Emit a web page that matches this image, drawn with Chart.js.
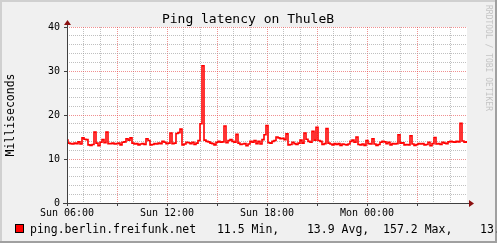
<!DOCTYPE html>
<html lang="en">
<head>
  <meta charset="UTF-8" />
  <title>Ping latency on ThuleB</title>
  <script src="https://cdn.jsdelivr.net/npm/chart.js"></script>
  <style>
    html, body { margin: 0; padding: 0; background: #f0f0f0; }
  </style>
</head>
<body>
  <canvas id="ping" width="497" height="243"></canvas>

  <script>
    // one sample every 7.2 minutes, Sun 06:00 -> Mon 06:00
    const seriesName = 'ping.berlin.freifunk.net';
    const stepHours = 0.12;
    const latencyMs = [
      14.3, 13.6, 13.5, 13.4, 13.6, 13.5, 13.9, 13.4, 14.8, 14.5,
      14.4, 13.2, 13.1, 13.3, 16.1, 13.6, 13.0, 13.8, 14.4, 13.7,
      16.1, 13.5, 13.5, 13.6, 13.4, 13.5, 13.6, 13.2, 13.8, 13.9,
      14.6, 14.3, 14.8, 13.6, 13.4, 13.5, 13.2, 13.4, 13.5, 13.3,
      14.6, 14.2, 13.2, 13.3, 13.5, 13.4, 13.6, 13.5, 14.0, 13.8,
      13.5, 13.6, 15.9, 13.5, 13.6, 15.8, 16.0, 16.8, 13.2, 13.4,
      13.8, 13.7, 13.5, 13.8, 13.3, 13.6, 14.2, 18.0, 31.2, 14.3,
      14.0, 13.9, 13.6, 13.5, 13.2, 13.8, 14.0, 13.8, 13.9, 17.5,
      13.7, 14.2, 14.4, 14.0, 13.8, 15.6, 13.6, 13.3, 13.4, 13.5,
      13.0, 13.4, 14.0, 13.8, 14.2, 13.5, 14.0, 13.4, 14.4, 15.5,
      17.6, 13.7, 13.6, 14.0, 14.2, 15.0, 14.8, 14.6, 14.7, 14.4,
      15.7, 13.2, 13.3, 13.8, 13.5, 13.3, 13.6, 14.3, 13.6, 15.9,
      14.5, 14.0, 13.8, 16.3, 14.3, 17.2, 14.2, 14.0, 13.3, 13.5,
      16.9, 13.6, 13.4, 13.2, 13.5, 13.3, 13.5, 13.1, 13.4, 13.3,
      13.2, 13.4, 14.0, 14.3, 13.8, 15.0, 13.3, 13.2, 13.4, 13.1,
      14.2, 13.5, 13.4, 14.6, 13.4, 13.1, 13.3, 13.8, 14.0, 13.9,
      13.5, 13.8, 13.2, 13.5, 13.4, 13.5, 15.5, 13.6, 13.7, 13.2,
      13.3, 13.2, 15.3, 13.4, 13.1, 13.3, 13.5, 13.4, 13.5, 13.2,
      13.3, 13.8, 13.0, 13.5, 14.9, 13.4, 13.5, 13.3, 13.8, 13.6,
      13.5, 13.9, 14.0, 13.9, 13.8, 14.0, 13.9, 18.1, 14.1, 13.8,
      13.9
    ];
    const xTickHours = [0, 6, 12, 18];
    const xTickLabels = ['Sun 06:00', 'Sun 12:00', 'Sun 18:00', 'Mon 00:00'];
    const yTickLabels = [0, 10, 20, 30, 40];
    const legendStats = ['11.5 Min,', '13.9 Avg,', '157.2 Max,', '13.9 Last'];

    const mono = '"DejaVu Sans Mono", monospace';
    const majorGrid = 'rgba(230, 70, 70, 0.6)';
    const minorGrid = 'rgba(150, 150, 150, 0.6)';
    const axisColor = '#404040';
    const arrowColor = '#8b1010';

    const points = latencyMs.map((v, i) => ({ x: i * stepHours, y: v }));

    const rrdLook = {
      id: 'rrdLook',
      beforeDraw(chart) {
        const { ctx, width, height, chartArea: a } = chart;
        ctx.save();
        ctx.fillStyle = '#f0f0f0';
        ctx.fillRect(0, 0, width, height);
        ctx.fillStyle = '#d0d0d0';
        ctx.fillRect(0, 0, width, 2);
        ctx.fillRect(0, 0, 2, height);
        ctx.fillStyle = '#a0a0a0';
        ctx.fillRect(0, height - 2, width, 2);
        ctx.fillRect(width - 2, 0, 2, height);
        ctx.fillStyle = '#ffffff';
        ctx.fillRect(a.left, a.top, a.right - a.left, a.bottom - a.top);
        ctx.restore();
      },
      afterDraw(chart) {
        const { ctx, chartArea: a } = chart;
        const x0 = Math.round(chart.scales.x.getPixelForValue(0)) + 0.5;
        const y0 = Math.round(chart.scales.y.getPixelForValue(0)) + 0.5;
        ctx.save();

        // axes
        ctx.strokeStyle = axisColor;
        ctx.lineWidth = 1;
        ctx.beginPath();
        ctx.moveTo(a.left - 4, y0);
        ctx.lineTo(a.right + 2, y0);
        ctx.moveTo(x0, a.bottom + 2);
        ctx.lineTo(x0, a.top - 2);
        ctx.stroke();

        // arrow heads
        ctx.fillStyle = arrowColor;
        ctx.beginPath();
        ctx.moveTo(a.right + 7, y0);
        ctx.lineTo(a.right + 2, y0 - 3.5);
        ctx.lineTo(a.right + 2, y0 + 3.5);
        ctx.closePath();
        ctx.fill();
        ctx.beginPath();
        ctx.moveTo(x0, a.top - 7);
        ctx.lineTo(x0 - 3.5, a.top - 2);
        ctx.lineTo(x0 + 3.5, a.top - 2);
        ctx.closePath();
        ctx.fill();

        // title
        ctx.fillStyle = '#000';
        ctx.font = '13px ' + mono;
        ctx.textAlign = 'center';
        ctx.textBaseline = 'alphabetic';
        ctx.fillText('Ping latency on ThuleB', 248, 22.5);

        // legend
        ctx.fillStyle = '#ff0000';
        ctx.fillRect(15, 224, 9, 9);
        ctx.strokeStyle = '#000';
        ctx.strokeRect(15.5, 224.5, 8, 8);
        ctx.fillStyle = '#000';
        ctx.font = '11.5px ' + mono;
        ctx.textAlign = 'left';
        const gaps = ['   ', '    ', '  ', '    '];
        const line = seriesName + legendStats.map((s, i) => gaps[i] + s).join('');
        ctx.fillText(line, 30, 232.5);

        // watermark
        ctx.translate(488, 5);
        ctx.rotate(Math.PI / 2);
        ctx.fillStyle = '#c4c4c4';
        ctx.font = '8px ' + mono;
        ctx.textBaseline = 'middle';
        ctx.fillText('RRDTOOL / TOBI OETIKER', 0, 0);
        ctx.restore();
      }
    };

    new Chart(document.getElementById('ping').getContext('2d'), {
      type: 'line',
      data: {
        datasets: [{
          label: seriesName,
          data: points,
          borderColor: '#ff0000',
          borderWidth: 1.6,
          pointRadius: 0,
          stepped: 'middle',
          fill: false
        }]
      },
      options: {
        responsive: false,
        animation: false,
        events: [],
        layout: { padding: { top: 27, left: 0, right: 30, bottom: 0 } },
        plugins: { legend: { display: false }, tooltip: { enabled: false }, title: { display: false } },
        scales: {
          x: {
            type: 'linear',
            min: 0,
            max: 24,
            afterFit: s => { s.height = 40; },
            ticks: {
              stepSize: 1,
              autoSkip: false,
              maxRotation: 0,
              padding: 1,
              color: '#000',
              font: { family: mono, size: 10 },
              callback: v => {
                const k = xTickHours.indexOf(v);
                return k >= 0 ? xTickLabels[k] : '';
              }
            },
            grid: {
              color: c => c.tick.value >= 24 ? 'transparent' : (c.tick.value % 3 === 0 ? majorGrid : minorGrid),
              tickColor: c => c.tick.value % 3 === 0 && c.tick.value < 24 ? axisColor : 'transparent',
              tickLength: 3,
              lineWidth: 1
            },
            border: { display: false, dash: [1, 1] }
          },
          y: {
            min: 0,
            max: 40,
            afterFit: s => { s.width = 67; },
            ticks: {
              stepSize: 2,
              autoSkip: false,
              padding: 4,
              color: '#000',
              font: { family: mono, size: 10 },
              callback: v => yTickLabels.includes(v) ? String(v) : ''
            },
            grid: {
              color: c => c.tick.value % 10 === 0 ? majorGrid : minorGrid,
              tickColor: c => c.tick.value % 10 === 0 ? axisColor : 'transparent',
              tickLength: 3,
              lineWidth: 1
            },
            border: { display: false, dash: [1, 1] },
            title: {
              display: true,
              text: 'Milliseconds',
              color: '#000',
              font: { family: mono, size: 11.5 },
              padding: { top: 4, bottom: 0 }
            }
          }
        }
      },
      plugins: [rrdLook]
    });
  </script>
</body>
</html>
